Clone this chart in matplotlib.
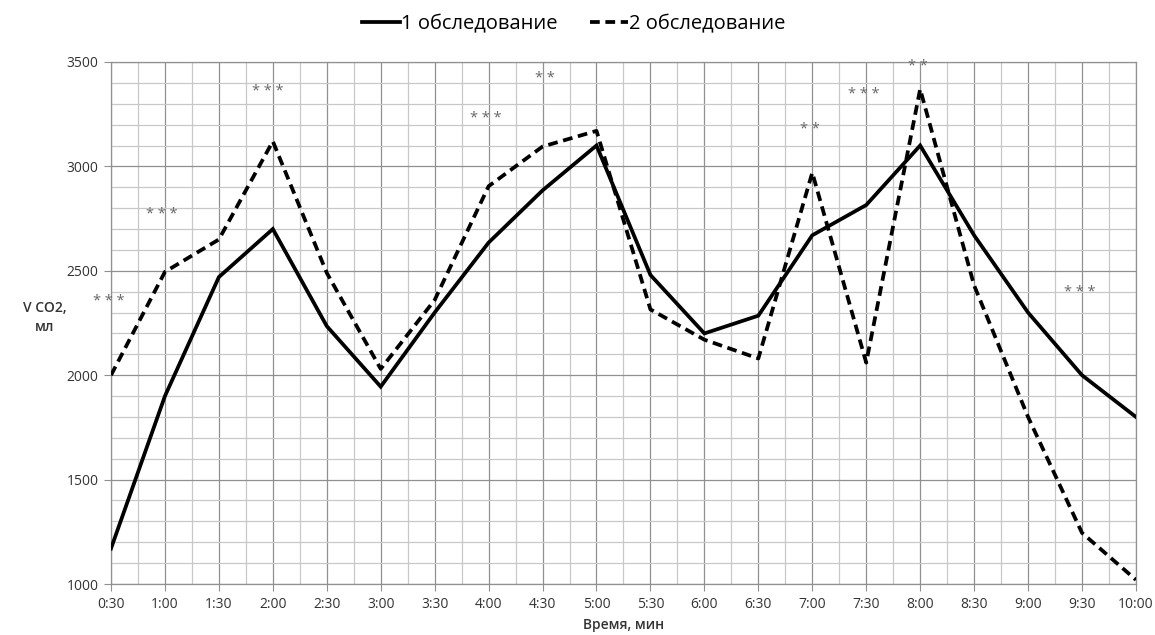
import matplotlib
matplotlib.use("Agg")
import matplotlib.pyplot as plt
from matplotlib.ticker import MultipleLocator, FixedLocator

plt.rcParams['font.family'] = ['Open Sans', 'DejaVu Sans']

time_labels = ["0:30", "1:00", "1:30", "2:00", "2:30", "3:00", "3:30", "4:00", "4:30", "5:00",
               "5:30", "6:00", "6:30", "7:00", "7:30", "8:00", "8:30", "9:00", "9:30", "10:00"]
exam1 = [1170, 1900, 2470, 2700, 2235, 1945, 2300, 2635, 2885, 3100,
         2480, 2200, 2285, 2670, 2815, 3100, 2670, 2300, 2000, 1800]
exam2 = [2000, 2495, 2650, 3120, 2490, 2030, 2360, 2905, 3095, 3170,
         2315, 2170, 2080, 2970, 2060, 3370, 2430, 1800, 1245, 1020]

# significance marks: (position index, y value, text)
sig_pos = [-0.05, 0.95, 2.9, 6.95, 8.05, 12.95, 13.95, 14.95, 17.95]
sig_y = [2355, 2770, 3360, 3230, 3420, 3175, 3345, 3480, 2395]
sig_txt = ["* * *", "* * *", "* * *", "* * *", "* *", "* *", "* * *", "* *", "* * *"]

x = list(range(len(time_labels)))

fig = plt.figure(figsize=(11.55, 6.35), dpi=100)
ax = fig.add_axes([0.0961, 0.0803, 0.8874, 0.8221])

ax.plot(x, exam1, color='black', lw=2.7, solid_joinstyle='miter', label='1 обследование', zorder=3)
ax.plot(x, exam2, color='black', lw=2.7, dashes=(2.6, 1.5), label='2 обследование', zorder=3)

ax.set_xlim(0, len(x) - 1)
ax.set_ylim(1000, 3500)
ax.xaxis.set_major_locator(FixedLocator(x))
ax.set_xticklabels(time_labels)
ax.xaxis.set_minor_locator(MultipleLocator(0.5))
ax.yaxis.set_major_locator(MultipleLocator(500))
ax.yaxis.set_minor_locator(MultipleLocator(100))

ax.grid(which='major', color='#909090', lw=0.9)
ax.grid(which='minor', color='#c8c8c8', lw=0.9)
ax.set_axisbelow(True)
for s in ax.spines.values():
    s.set_color('#909090')
    s.set_linewidth(0.9)

ax.tick_params(which='major', length=5, color='#909090', labelsize=10, labelcolor='#333333', pad=4)
ax.tick_params(which='minor', length=0)

for px, py, t in zip(sig_pos, sig_y, sig_txt):
    ax.text(px, py, t, ha='center', va='center', fontsize=10.5, color='#666666')

fig.text(0.039, 0.50, "V CO2,\nмл", ha='center', va='center', fontsize=10,
         fontweight='semibold', color='#333333', linespacing=1.5)
fig.text(0.540, 0.016, "Время, мин", ha='center', va='center', fontsize=10,
         fontweight='semibold', color='#333333')

leg = fig.legend(loc='center', bbox_to_anchor=(0.497, 0.962), ncol=2, frameon=False,
                 fontsize=14.5, handlelength=1.9, handletextpad=0.05, columnspacing=1.6)

fig.savefig("out.png", dpi=100)
